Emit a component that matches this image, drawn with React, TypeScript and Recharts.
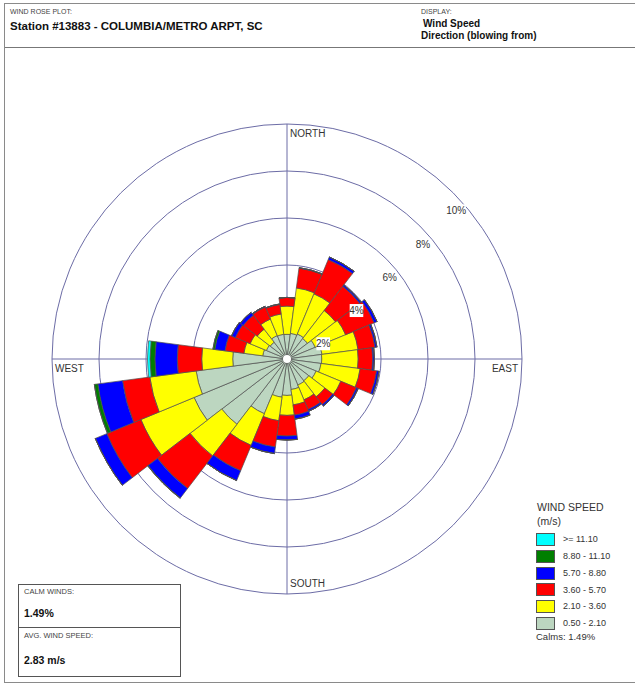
import React from 'react';
import { RadialBarChart, RadialBar, PolarAngleAxis, PolarRadiusAxis, PolarGrid } from 'recharts';

// Direction sectors (degrees, "blowing from", clockwise from north)
const directions = [0, 15, 30, 45, 60, 75, 90, 105, 120, 135, 150, 165, 180, 195, 210, 225, 240, 255, 270, 285, 300, 315, 330, 345];

const compassDirections = [0, 90, 180, 270];
const compassLabels = ['NORTH', 'EAST', 'SOUTH', 'WEST'];

// Speed classes (m/s)
const speedClassKeys = ['s1', 's2', 's3', 's4', 's5', 's6'];
const speedClassLabels = ['0.50 - 2.10', '2.10 - 3.60', '3.60 - 5.70', '5.70 - 8.80', '8.80 - 11.10', '>= 11.10'];
const speedClassColors = ['#bcd6c0', '#ffff00', '#ff0000', '#0000ff', '#007f00', '#00ffff'];

// Frequency (%) of each speed class per direction
const speed050to210 = [1.05, 1.10, 1.15, 1.10, 1.30, 1.50, 1.48, 1.46, 1.34, 1.17, 1.20, 1.31, 1.55, 1.64, 2.52, 3.50, 4.28, 3.90, 2.31, 1.04, 0.95, 0.90, 1.08, 1.06];
const speed210to360 = [1.20, 1.95, 1.85, 1.50, 1.40, 1.55, 1.55, 1.68, 1.14, 0.86, 0.68, 0.66, 0.85, 1.01, 1.46, 1.70, 2.45, 1.99, 1.32, 0.81, 0.75, 0.70, 0.76, 0.87];
const speed360to570 = [0.37, 0.85, 1.58, 1.30, 1.32, 0.73, 0.62, 0.71, 0.72, 0.42, 0.45, 0.44, 0.88, 1.13, 1.17, 1.75, 1.57, 1.17, 1.04, 0.81, 0.68, 0.75, 0.56, 0.41];
const speed570to880 = [0.00, 0.02, 0.12, 0.07, 0.13, 0.08, 0.07, 0.10, 0.08, 0.08, 0.08, 0.17, 0.17, 0.28, 0.45, 0.50, 0.53, 1.06, 0.95, 0.44, 0.17, 0.15, 0.03, 0.02];
const speed880to1110 = [0, 0, 0, 0, 0, 0, 0, 0, 0, 0, 0, 0, 0, 0, 0, 0.02, 0, 0.15, 0.21, 0.08, 0.01, 0.01, 0, 0];
const speedAbove1110 = [0, 0, 0, 0, 0, 0, 0, 0, 0, 0, 0, 0, 0, 0, 0, 0, 0, 0, 0.11, 0, 0, 0, 0, 0];

const speedSeries = [speed050to210, speed210to360, speed360to570, speed570to880, speed880to1110, speedAbove1110];

const radiusDomain = [0, 10];

const data = directions.map((dir, i) => {
  const row: Record<string, number> = { dir };
  speedClassKeys.forEach((k, j) => {
    row[k] = speedSeries[j][i];
  });
  return row;
});

const CX = 287;
const CY = 359;
const R = 235;
const FONT = '"Liberation Sans", Arial, Helvetica, sans-serif';
const BORDER = '#8a8a8a';

const CompassTick = (props: any) => {
  const v = Number(props.payload?.value);
  const idx = compassDirections.indexOf(v);
  if (idx < 0) return <g />;
  const label = compassLabels[idx];
  let x = CX + 3;
  let y = CY - R + 9;
  let anchor: 'start' | 'end' = 'start';
  if (label === 'EAST') { x = CX + R - 4; y = CY + 9; anchor = 'end'; }
  if (label === 'SOUTH') { x = CX + 3; y = CY + R - 11; }
  if (label === 'WEST') { x = CX - R + 3; y = CY + 9; }
  return (
    <text x={x} y={y} textAnchor={anchor} dominantBaseline="central" fontSize={10} fill="#333" fontFamily={FONT}>
      {label}
    </text>
  );
};

const PercentTick = (props: any) => {
  const { x, y, payload } = props;
  if (!payload || Number(payload.value) === 0) return <g />;
  const label = `${payload.value}%`;
  const w = label.length * 5.8 + 2;
  const tx = x + 3;
  const ty = y + 18;
  return (
    <g>
      <rect x={tx - w / 2} y={ty - 6.5} width={w} height={13} fill="#ffffff" />
      <text x={tx} y={ty} textAnchor="middle" dominantBaseline="central" fontSize={10} fill="#333" fontFamily={FONT}>
        {label}
      </text>
    </g>
  );
};

const txt = (left: number, cy: number, size: number, content: string, bold = false, color = '#222') => (
  <div
    style={{
      position: 'absolute',
      left,
      top: cy - size * 0.6,
      height: size * 1.2,
      lineHeight: `${size * 1.2}px`,
      fontSize: size,
      fontWeight: bold ? 700 : 400,
      color,
      whiteSpace: 'nowrap',
      fontFamily: FONT,
    }}
  >
    {content}
  </div>
);

export default function App() {
  return (
    <div style={{ position: 'absolute', left: 0, top: 0, width: 635, height: 685, background: '#fff', overflow: 'hidden', fontFamily: FONT }}>
      {/* Header box */}
      <div style={{ position: 'absolute', left: 4, top: 3, width: 640, height: 43, borderTop: `1px solid ${BORDER}`, borderLeft: `1px solid ${BORDER}`, borderBottom: `1px solid #777` }} />
      {/* Main frame */}
      <div style={{ position: 'absolute', left: 4, top: 47, width: 640, height: 635, borderLeft: `1px solid ${BORDER}`, borderBottom: `1px solid ${BORDER}` }} />

      {txt(10, 12, 7, 'WIND ROSE PLOT:', false, '#444')}
      {txt(10, 27, 11.5, 'Station #13883 - COLUMBIA/METRO ARPT, SC', true, '#111')}
      {txt(421, 12, 7, 'DISPLAY:', false, '#444')}
      {txt(423, 24, 10, 'Wind Speed', true, '#111')}
      {txt(421, 36, 10, 'Direction (blowing from)', true, '#111')}

      <div style={{ position: 'absolute', left: 0, top: 0 }}>
        <RadialBarChart
          width={635}
          height={685}
          cx={CX}
          cy={CY}
          innerRadius={0}
          outerRadius={R}
          startAngle={82.5}
          endAngle={-277.5}
          layout="centric"
          data={data}
          barCategoryGap={0}
          barGap={0}
          margin={{ top: 0, right: 0, bottom: 0, left: 0 }}
        >
          <PolarGrid gridType="circle" polarAngles={[90, 0, -90, 180]} stroke="#6c6ca6" strokeWidth={1} />
          <PolarAngleAxis type="category" dataKey="dir" axisLine={false} tickLine={false} tick={CompassTick} />
          {speedClassKeys.map((k, i) => (
            <RadialBar
              key={k}
              dataKey={k}
              stackId="wind"
              fill={speedClassColors[i]}
              stroke="#4f4f4f"
              strokeWidth={0.7}
              isAnimationActive={false}
            />
          ))}
          <PolarRadiusAxis
            type="number"
            domain={radiusDomain}
            tickCount={6}
            angle={45}
            axisLine={false}
            tickLine={false}
            tick={PercentTick}
          />
        </RadialBarChart>
      </div>

      {/* center hole */}
      <svg style={{ position: 'absolute', left: CX - 6, top: CY - 6 }} width={12} height={12}>
        <circle cx={6} cy={6} r={4} fill="#fff" />
      </svg>

      {/* Legend */}
      {txt(537, 507, 10.5, 'WIND SPEED', false, '#333')}
      {txt(537, 521, 10.5, '(m/s)', false, '#333')}
      {speedClassLabels
        .map((label, i) => ({ label, color: speedClassColors[i] }))
        .reverse()
        .map((item, j) => {
          const top = 533 + j * 16.8;
          return (
            <React.Fragment key={item.label}>
              <div style={{ position: 'absolute', left: 536, top, width: 17, height: 11, background: item.color, border: '1px solid #555' }} />
              {txt(563, top + 6.5, 9, item.label, false, '#333')}
            </React.Fragment>
          );
        })}
      {txt(536, 637, 9.5, 'Calms: 1.49%', false, '#333')}

      {/* Calm / average box */}
      <div style={{ position: 'absolute', left: 18, top: 584, width: 161, height: 91, border: '1px solid #555' }} />
      <div style={{ position: 'absolute', left: 18, top: 627, width: 163, height: 1, background: '#555' }} />
      {txt(24, 591, 7.5, 'CALM WINDS:', false, '#444')}
      {txt(24, 613, 10.5, '1.49%', true, '#111')}
      {txt(24, 635, 7.5, 'AVG. WIND SPEED:', false, '#444')}
      {txt(24, 660, 10.5, '2.83 m/s', true, '#111')}
    </div>
  );
}
